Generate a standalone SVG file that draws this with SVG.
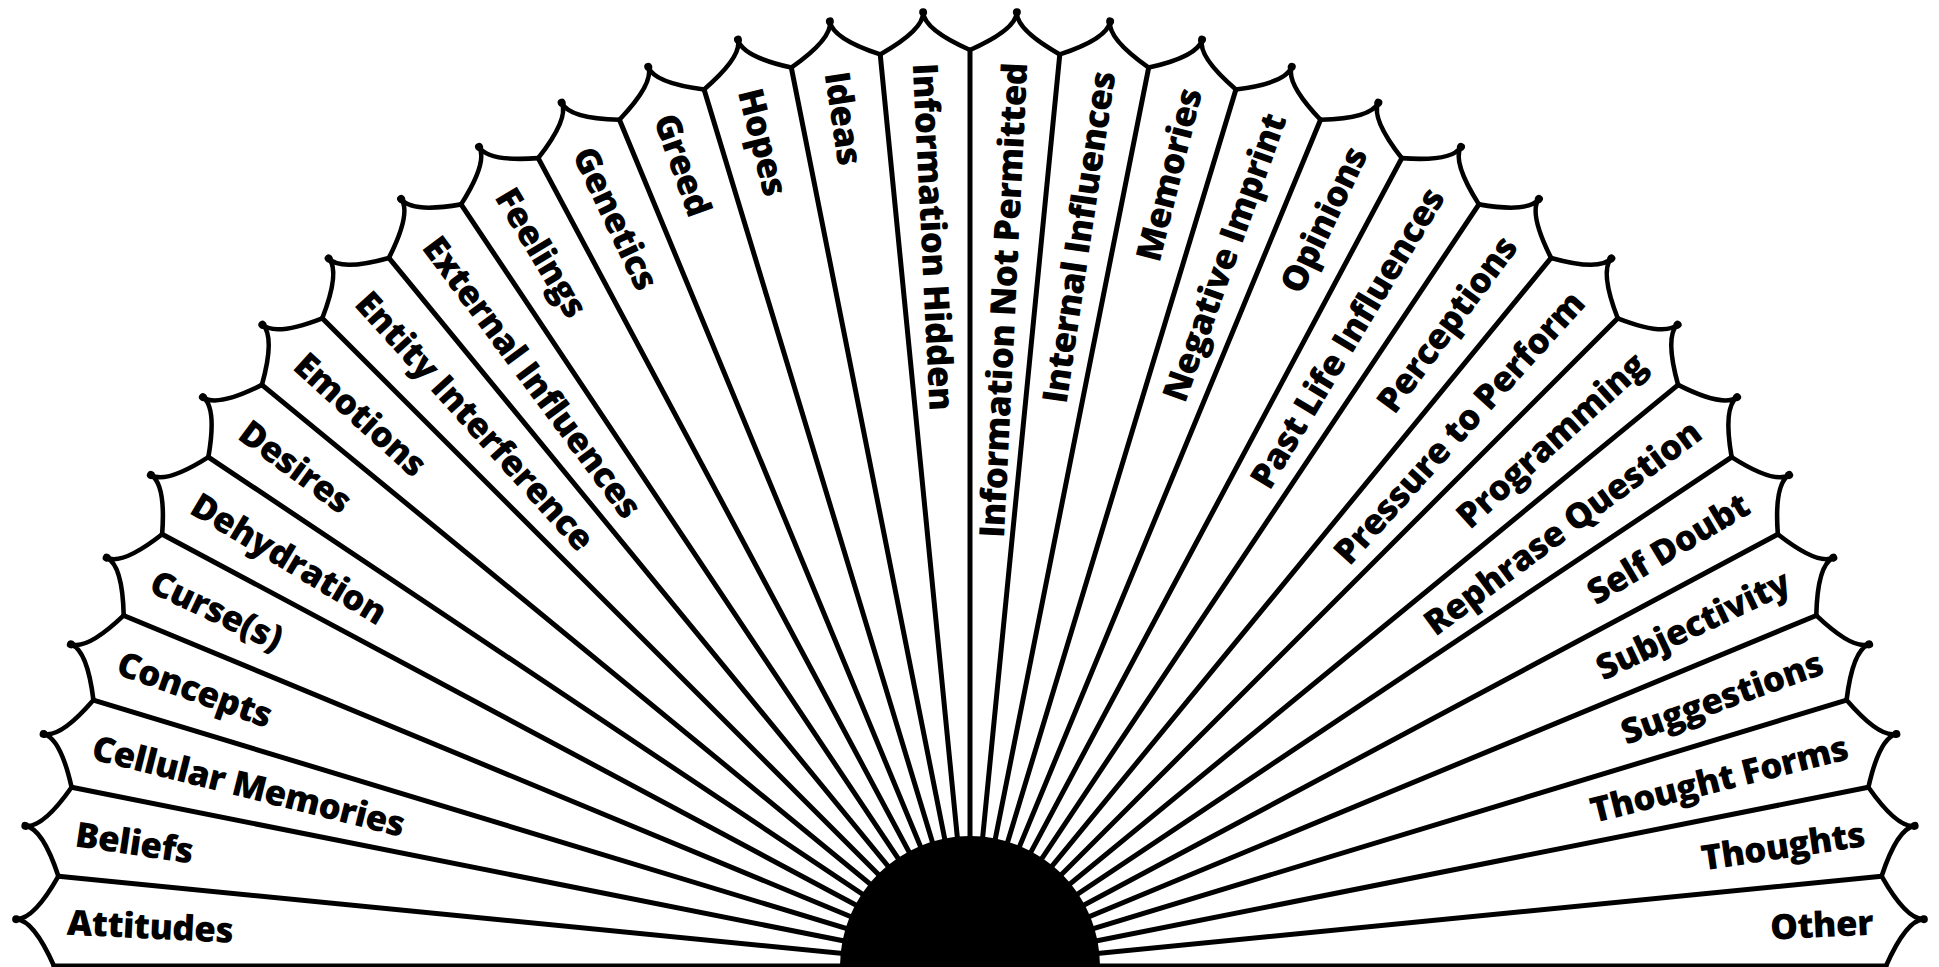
<svg xmlns="http://www.w3.org/2000/svg" xmlns:xlink="http://www.w3.org/1999/xlink" width="1939" height="967" viewBox="0 0 1939 967">
<style>
.edge{fill:none;stroke:#000;stroke-width:4.6;stroke-linecap:round;stroke-linejoin:round}
.spoke{stroke:#000;stroke-width:5;stroke-linecap:round}
.dot{fill:#000}
.lbl{font-family:"Open Sans","Liberation Sans",sans-serif;font-weight:800;font-size:35px;letter-spacing:-0.5px;fill:#000}
.l{text-anchor:start}
.r{text-anchor:end}
</style>
<defs>
<g id="tip">
<path class="edge" d="M55.1,921.05 Q32.5,966 15,966 Q32.5,966 55.1,1010.95"/>
<circle class="dot" cx="15" cy="966" r="4"/>
</g>
<line id="sp" class="spoke" x1="970" y1="966" x2="54" y2="966"/>
</defs>
<rect width="1939" height="967" fill="#fff"/>
<g id="spokes">
<use xlink:href="#sp" transform="rotate(0 970 966)"/>
<use xlink:href="#sp" transform="rotate(5.625 970 966)"/>
<use xlink:href="#sp" transform="rotate(11.25 970 966)"/>
<use xlink:href="#sp" transform="rotate(16.875 970 966)"/>
<use xlink:href="#sp" transform="rotate(22.5 970 966)"/>
<use xlink:href="#sp" transform="rotate(28.125 970 966)"/>
<use xlink:href="#sp" transform="rotate(33.75 970 966)"/>
<use xlink:href="#sp" transform="rotate(39.375 970 966)"/>
<use xlink:href="#sp" transform="rotate(45 970 966)"/>
<use xlink:href="#sp" transform="rotate(50.625 970 966)"/>
<use xlink:href="#sp" transform="rotate(56.25 970 966)"/>
<use xlink:href="#sp" transform="rotate(61.875 970 966)"/>
<use xlink:href="#sp" transform="rotate(67.5 970 966)"/>
<use xlink:href="#sp" transform="rotate(73.125 970 966)"/>
<use xlink:href="#sp" transform="rotate(78.75 970 966)"/>
<use xlink:href="#sp" transform="rotate(84.375 970 966)"/>
<use xlink:href="#sp" transform="rotate(90 970 966)"/>
<use xlink:href="#sp" transform="rotate(95.625 970 966)"/>
<use xlink:href="#sp" transform="rotate(101.25 970 966)"/>
<use xlink:href="#sp" transform="rotate(106.875 970 966)"/>
<use xlink:href="#sp" transform="rotate(112.5 970 966)"/>
<use xlink:href="#sp" transform="rotate(118.125 970 966)"/>
<use xlink:href="#sp" transform="rotate(123.75 970 966)"/>
<use xlink:href="#sp" transform="rotate(129.375 970 966)"/>
<use xlink:href="#sp" transform="rotate(135 970 966)"/>
<use xlink:href="#sp" transform="rotate(140.625 970 966)"/>
<use xlink:href="#sp" transform="rotate(146.25 970 966)"/>
<use xlink:href="#sp" transform="rotate(151.875 970 966)"/>
<use xlink:href="#sp" transform="rotate(157.5 970 966)"/>
<use xlink:href="#sp" transform="rotate(163.125 970 966)"/>
<use xlink:href="#sp" transform="rotate(168.75 970 966)"/>
<use xlink:href="#sp" transform="rotate(174.375 970 966)"/>
<use xlink:href="#sp" transform="rotate(180 970 966)"/>
</g>
<g id="seg-attitudes" transform="rotate(2.8125 970 966)"><use xlink:href="#tip"/><text class="lbl l" x="66" y="979">Attitudes</text></g>
<g id="seg-beliefs" transform="rotate(8.4375 970 966)"><use xlink:href="#tip"/><text class="lbl l" x="66" y="979">Beliefs</text></g>
<g id="seg-cellular-memories" transform="rotate(14.0625 970 966)"><use xlink:href="#tip"/><text class="lbl l" x="66" y="979">Cellular Memories</text></g>
<g id="seg-concepts" transform="rotate(19.6875 970 966)"><use xlink:href="#tip"/><text class="lbl l" x="66" y="979">Concepts</text></g>
<g id="seg-curses" transform="rotate(25.3125 970 966)"><use xlink:href="#tip"/><text class="lbl l" x="66" y="979">Curse(s)</text></g>
<g id="seg-dehydration" transform="rotate(30.9375 970 966)"><use xlink:href="#tip"/><text class="lbl l" x="66" y="979">Dehydration</text></g>
<g id="seg-desires" transform="rotate(36.5625 970 966)"><use xlink:href="#tip"/><text class="lbl l" x="66" y="979">Desires</text></g>
<g id="seg-emotions" transform="rotate(42.1875 970 966)"><use xlink:href="#tip"/><text class="lbl l" x="66" y="979">Emotions</text></g>
<g id="seg-entity-interference" transform="rotate(47.8125 970 966)"><use xlink:href="#tip"/><text class="lbl l" x="66" y="979">Entity Interference</text></g>
<g id="seg-external-influences" transform="rotate(53.4375 970 966)"><use xlink:href="#tip"/><text class="lbl l" x="66" y="979">External Influences</text></g>
<g id="seg-feelings" transform="rotate(59.0625 970 966)"><use xlink:href="#tip"/><text class="lbl l" x="66" y="979">Feelings</text></g>
<g id="seg-genetics" transform="rotate(64.6875 970 966)"><use xlink:href="#tip"/><text class="lbl l" x="66" y="979">Genetics</text></g>
<g id="seg-greed" transform="rotate(70.3125 970 966)"><use xlink:href="#tip"/><text class="lbl l" x="66" y="979">Greed</text></g>
<g id="seg-hopes" transform="rotate(75.9375 970 966)"><use xlink:href="#tip"/><text class="lbl l" x="66" y="979">Hopes</text></g>
<g id="seg-ideas" transform="rotate(81.5625 970 966)"><use xlink:href="#tip"/><text class="lbl l" x="66" y="979">Ideas</text></g>
<g id="seg-information-hidden" transform="rotate(87.1875 970 966)"><use xlink:href="#tip"/><text class="lbl l" x="66" y="979">Information Hidden</text></g>
<g id="seg-information-not-permitted" transform="rotate(92.8125 970 966)"><use xlink:href="#tip"/><text class="lbl r" x="66" y="979" transform="rotate(180 66 966)">Information Not Permitted</text></g>
<g id="seg-internal-influences" transform="rotate(98.4375 970 966)"><use xlink:href="#tip"/><text class="lbl r" x="66" y="979" transform="rotate(180 66 966)">Internal Influences</text></g>
<g id="seg-memories" transform="rotate(104.0625 970 966)"><use xlink:href="#tip"/><text class="lbl r" x="66" y="979" transform="rotate(180 66 966)">Memories</text></g>
<g id="seg-negative-imprint" transform="rotate(109.6875 970 966)"><use xlink:href="#tip"/><text class="lbl r" x="66" y="979" transform="rotate(180 66 966)">Negative Imprint</text></g>
<g id="seg-opinions" transform="rotate(115.3125 970 966)"><use xlink:href="#tip"/><text class="lbl r" x="66" y="979" transform="rotate(180 66 966)">Opinions</text></g>
<g id="seg-past-life-influences" transform="rotate(120.9375 970 966)"><use xlink:href="#tip"/><text class="lbl r" x="66" y="979" transform="rotate(180 66 966)">Past Life Influences</text></g>
<g id="seg-perceptions" transform="rotate(126.5625 970 966)"><use xlink:href="#tip"/><text class="lbl r" x="66" y="979" transform="rotate(180 66 966)">Perceptions</text></g>
<g id="seg-pressure-to-perform" transform="rotate(132.1875 970 966)"><use xlink:href="#tip"/><text class="lbl r" x="66" y="979" transform="rotate(180 66 966)">Pressure to Perform</text></g>
<g id="seg-programming" transform="rotate(137.8125 970 966)"><use xlink:href="#tip"/><text class="lbl r" x="66" y="979" transform="rotate(180 66 966)">Programming</text></g>
<g id="seg-rephrase-question" transform="rotate(143.4375 970 966)"><use xlink:href="#tip"/><text class="lbl r" x="66" y="979" transform="rotate(180 66 966)">Rephrase Question</text></g>
<g id="seg-self-doubt" transform="rotate(149.0625 970 966)"><use xlink:href="#tip"/><text class="lbl r" x="66" y="979" transform="rotate(180 66 966)">Self Doubt</text></g>
<g id="seg-subjectivity" transform="rotate(154.6875 970 966)"><use xlink:href="#tip"/><text class="lbl r" x="66" y="979" transform="rotate(180 66 966)">Subjectivity</text></g>
<g id="seg-suggestions" transform="rotate(160.3125 970 966)"><use xlink:href="#tip"/><text class="lbl r" x="66" y="979" transform="rotate(180 66 966)">Suggestions</text></g>
<g id="seg-thought-forms" transform="rotate(165.9375 970 966)"><use xlink:href="#tip"/><text class="lbl r" x="66" y="979" transform="rotate(180 66 966)">Thought Forms</text></g>
<g id="seg-thoughts" transform="rotate(171.5625 970 966)"><use xlink:href="#tip"/><text class="lbl r" x="66" y="979" transform="rotate(180 66 966)">Thoughts</text></g>
<g id="seg-other" transform="rotate(177.1875 970 966)"><use xlink:href="#tip"/><text class="lbl r" x="66" y="979" transform="rotate(180 66 966)">Other</text></g>
<g id="hub"><circle cx="970" cy="966" r="130" fill="#000"/></g>
</svg>
